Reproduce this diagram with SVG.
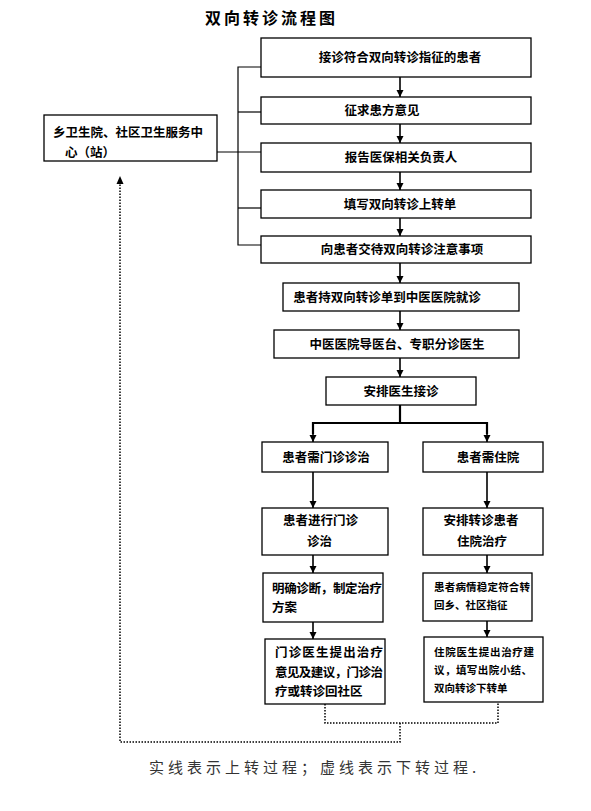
<svg xmlns="http://www.w3.org/2000/svg" width="591" height="811" viewBox="0 0 591 811">
<style>
.box{fill:#fff;stroke:#000;stroke-width:1.3}
.t{font-family:"Noto Sans CJK SC","Noto Sans",sans-serif;font-weight:bold;font-size:12.5px;fill:#000}
.s{font-family:"Noto Sans CJK SC","Noto Sans",sans-serif;font-weight:bold;font-size:10.5px;fill:#000}
.ln{stroke:#000;stroke-width:1.2;fill:none}
.ar{stroke:#000;stroke-width:1.6;fill:none;marker-end:url(#ah)}
.ar2{stroke:#000;stroke-width:2.2;fill:none}
.dt{stroke:#000;stroke-width:1.5;fill:none;stroke-dasharray:1.5 1.5}
</style>
<defs>
<marker id="ah" markerUnits="userSpaceOnUse" markerWidth="8" markerHeight="8" refX="7" refY="3.5" orient="auto">
<path d="M0,0 L7,3.5 L0,7 z" fill="#000"/>
</marker>
</defs>
<rect width="591" height="811" fill="#fff"/>
<text x="205" y="24" style="font-family:'Noto Sans CJK SC',sans-serif;font-size:16px;font-weight:bold;letter-spacing:3px" fill="#000">双向转诊流程图</text>

<g id="connectors">
<line class="ar" x1="400" y1="77" x2="400" y2="97"/>
<line class="ar" x1="400" y1="124" x2="400" y2="143"/>
<line class="ar" x1="400" y1="172" x2="400" y2="190"/>
<line class="ar" x1="400" y1="218" x2="400" y2="236"/>
<line class="ar" x1="400" y1="263" x2="400" y2="283"/>
<line class="ar" x1="400" y1="311" x2="400" y2="330"/>
<line class="ar" x1="400" y1="358" x2="400" y2="377"/>
<polyline class="ln" points="261,67 238,67 238,245 261,245"/>
<line class="ln" x1="238" y1="112" x2="261" y2="112"/>
<line class="ln" x1="217" y1="152" x2="261" y2="152"/>
<line class="ln" x1="238" y1="208" x2="261" y2="208"/>
<line class="ar2" x1="400" y1="405" x2="400" y2="423"/>
<polyline class="ar2" points="313,434 313,423 487,423 487,434"/>
<line class="ar" x1="313" y1="430" x2="313" y2="442"/>
<line class="ar" x1="487" y1="430" x2="487" y2="442"/>
<line class="ar" x1="313" y1="472" x2="313" y2="508"/>
<line class="ar" x1="487" y1="472" x2="487" y2="508"/>
<line class="ar" x1="313" y1="555" x2="313" y2="573"/>
<line class="ar" x1="487" y1="555" x2="487" y2="573"/>
<line class="ar" x1="313" y1="622" x2="313" y2="639"/>
<line class="ar" x1="487" y1="621" x2="487" y2="637"/>
<polyline class="dt" points="325,704 325,723 498,723 498,702"/>
<polyline class="dt" points="400,723 400,742 120,742 120,184"/>
<path d="M116.5,184 L120,176 L123.5,184 z" fill="#000"/>
</g>

<g id="n_left"><rect class="box" x="44" y="115" width="173" height="46"/>
<text class="t" x="53" y="137">乡卫生院、社区卫生服务中</text>
<text class="t" x="65" y="157">心（站）</text></g>

<g id="n1"><rect class="box" x="261" y="38" width="270" height="39"/><text class="t" x="400" y="62" text-anchor="middle">接诊符合双向转诊指征的患者</text></g>
<g id="n2"><rect class="box" x="261" y="97" width="270" height="27"/><text class="t" x="382" y="115" text-anchor="middle">征求患方意见</text></g>
<g id="n3"><rect class="box" x="261" y="143" width="270" height="29"/><text class="t" x="401" y="162" text-anchor="middle">报告医保相关负责人</text></g>
<g id="n4"><rect class="box" x="261" y="190" width="270" height="28"/><text class="t" x="400" y="209" text-anchor="middle">填写双向转诊上转单</text></g>
<g id="n5"><rect class="box" x="261" y="236" width="270" height="27"/><text class="t" x="402" y="254" text-anchor="middle">向患者交待双向转诊注意事项</text></g>
<g id="n6"><rect class="box" x="283" y="283" width="236" height="28"/><text class="t" x="387" y="302" text-anchor="middle">患者持双向转诊单到中医医院就诊</text></g>
<g id="n7"><rect class="box" x="274" y="330" width="245" height="28"/><text class="t" x="397" y="349" text-anchor="middle">中医医院导医台、专职分诊医生</text></g>
<g id="n8"><rect class="box" x="326" y="377" width="150" height="28"/><text class="t" x="401" y="396" text-anchor="middle">安排医生接诊</text></g>

<g id="l1"><rect class="box" x="262" y="442" width="126" height="30"/><text class="t" x="326" y="462" text-anchor="middle">患者需门诊诊治</text></g>
<g id="r1"><rect class="box" x="423" y="442" width="120" height="30"/><text class="t" x="488" y="462" text-anchor="middle">患者需住院</text></g>
<g id="l2"><rect class="box" x="262" y="508" width="126" height="47"/><text class="t" x="283" y="525">患者进行门诊</text><text class="t" x="307" y="546">诊治</text></g>
<g id="r2"><rect class="box" x="423" y="508" width="120" height="47"/><text class="t" x="481" y="525" text-anchor="middle">安排转诊患者</text><text class="t" x="482" y="546" text-anchor="middle">住院治疗</text></g>
<g id="l3"><rect class="box" x="263" y="573" width="120" height="49"/><text class="t" x="272" y="593" textLength="110">明确诊断，制定治疗</text><text class="t" x="272" y="612">方案</text></g>
<g id="r3"><rect class="box" x="423" y="573" width="109" height="48"/><text class="s" x="434" y="591" textLength="96">患者病情稳定符合转</text><text class="s" x="434" y="609">回乡、社区指征</text></g>
<g id="l4"><rect class="box" x="265" y="639" width="120" height="65"/><text class="t" x="275" y="657" textLength="108">门诊医生提出治疗</text><text class="t" x="275" y="677" textLength="108">意见及建议，门诊治</text><text class="t" x="275" y="696">疗或转诊回社区</text></g>
<g id="r4"><rect class="box" x="424" y="637" width="119" height="65"/><text class="s" x="434" y="656" textLength="100">住院医生提出治疗建</text><text class="s" x="434" y="674" textLength="98">议，填写出院小结、</text><text class="s" x="434" y="692">双向转诊下转单</text></g>

<text x="149" y="773" style="font-family:'Noto Sans CJK SC',sans-serif;font-size:15px;letter-spacing:4px" fill="#333">实线表示上转过程；虚线表示下转过程.</text>
</svg>
